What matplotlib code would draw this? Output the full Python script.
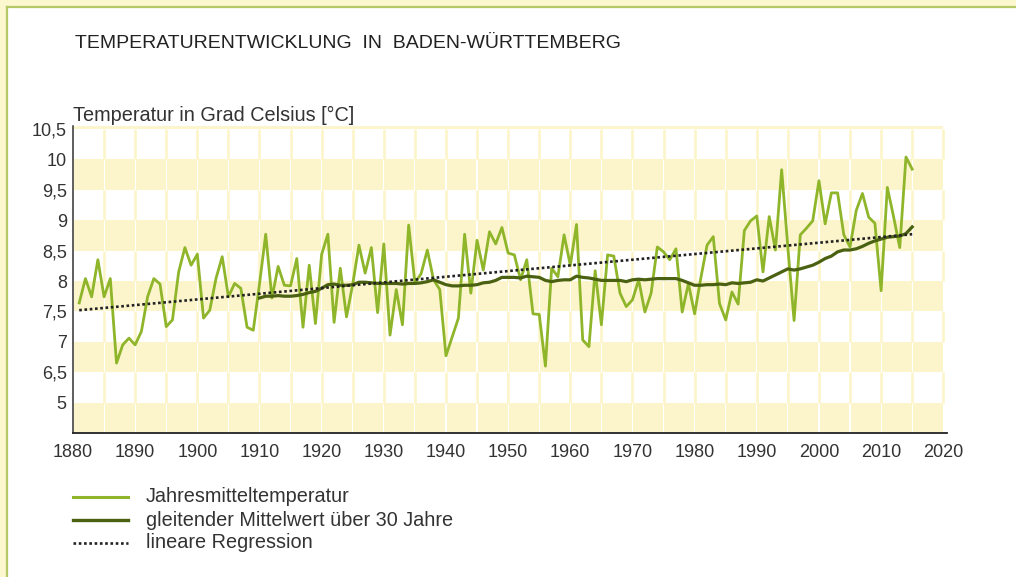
import numpy as np
import matplotlib.pyplot as plt
from matplotlib.patches import Rectangle
from matplotlib.lines import Line2D

plt.rcParams['font.family'] = ['Liberation Sans', 'DejaVu Sans']

# annual mean temperature 1881-2015
years = np.arange(1881, 2016)
temp = [7.64, 8.04, 7.74, 8.35, 7.74, 8.04, 6.65, 6.95, 7.06, 6.95,
        7.17, 7.74, 8.04, 7.95, 7.25, 7.36, 8.15, 8.55, 8.26, 8.44,
        7.39, 7.52, 8.04, 8.40, 7.74, 7.96, 7.88, 7.24, 7.19, 7.95,
        8.77, 7.72, 8.24, 7.93, 7.92, 8.37, 7.24, 8.26, 7.30, 8.44,
        8.77, 7.32, 8.21, 7.41, 7.95, 8.59, 8.13, 8.55, 7.48, 8.61,
        7.11, 7.86, 7.28, 8.92, 7.97, 8.12, 8.51, 8.02, 7.86, 6.77,
        7.08, 7.39, 8.77, 7.80, 8.67, 8.18, 8.81, 8.61, 8.88, 8.46,
        8.43, 8.02, 8.35, 7.46, 7.45, 6.60, 8.21, 8.07, 8.76, 8.26,
        8.93, 7.03, 6.92, 8.17, 7.28, 8.43, 8.41, 7.80, 7.58, 7.69,
        8.02, 7.49, 7.80, 8.56, 8.48, 8.35, 8.53, 7.49, 7.96, 7.46,
        8.05, 8.59, 8.73, 7.63, 7.36, 7.82, 7.62, 8.83, 8.99, 9.07,
        8.15, 9.06, 8.51, 9.83, 8.55, 7.35, 8.76, 8.87, 8.99, 9.65,
        8.94, 9.45, 9.45, 8.76, 8.56, 9.16, 9.44, 9.05, 8.95, 7.84,
        9.54, 9.06, 8.55, 10.04, 9.84]

# 30-year moving average 1910-2015
ma_years = np.arange(1910, 2016)
ma = [7.72, 7.75, 7.75, 7.76, 7.75, 7.75, 7.76, 7.78, 7.81, 7.83,
      7.88, 7.94, 7.95, 7.93, 7.93, 7.94, 7.98, 7.98, 7.97, 7.96,
      7.96, 7.96, 7.96, 7.95, 7.96, 7.96, 7.97, 7.99, 8.02, 7.98,
      7.94, 7.92, 7.92, 7.93, 7.93, 7.94, 7.97, 7.98, 8.01, 8.06,
      8.06, 8.06, 8.05, 8.08, 8.07, 8.06, 8.01, 7.99, 8.01, 8.02,
      8.02, 8.08, 8.06, 8.05, 8.03, 8.01, 8.01, 8.01, 8.01, 7.99,
      8.02, 8.03, 8.02, 8.03, 8.04, 8.04, 8.04, 8.04, 8.01, 7.97,
      7.93, 7.93, 7.94, 7.94, 7.95, 7.94, 7.97, 7.96, 7.97, 7.98,
      8.02, 8.00, 8.05, 8.10, 8.15, 8.20, 8.18, 8.20, 8.23, 8.26,
      8.31, 8.37, 8.41, 8.48, 8.51, 8.51, 8.53, 8.57, 8.62, 8.66,
      8.69, 8.72, 8.73, 8.74, 8.78, 8.89]

# linear regression end points
reg_years = [1881, 2015]
reg_vals = [7.52, 8.77]

# the axis is broken: "5" sits where 6 would be
ytick_pos = [6.0, 6.5, 7.0, 7.5, 8.0, 8.5, 9.0, 9.5, 10.0, 10.5]
ytick_labels = ['5', '6,5', '7', '7,5', '8', '8,5', '9', '9,5', '10', '10,5']
xticks = list(range(1880, 2021, 10))

light = '#8fb52a'
dark = '#4b6112'
band = '#fcf5cc'
dots = (0, (1.0, 1.0))
W, H = 1016, 577

fig = plt.figure(figsize=(W / 100, H / 100), dpi=100)
fig.patch.set_facecolor('white')

# frame at the top and left edge
fig.add_artist(Rectangle((0, 1 - 6 / H), 1, 6 / H, transform=fig.transFigure,
                         color='#fdf7cf', lw=0))
fig.add_artist(Rectangle((0, 0), 6 / W, 1, transform=fig.transFigure,
                         color='#fdf7cf', lw=0))
fig.add_artist(Line2D([6.5 / W, 1], [1 - 7 / H, 1 - 7 / H], transform=fig.transFigure,
                      color='#b5c866', lw=1.6))
fig.add_artist(Line2D([7 / W, 7 / W], [0, 1 - 6.5 / H], transform=fig.transFigure,
                      color='#b5c866', lw=1.6))

ax = fig.add_axes([73 / W, 1 - 433 / H, 874 / W, 307 / H])
ax.set_xlim(1880, 2020.6)
ax.set_ylim(5.5, 10.55)
ax.set_facecolor('white')

# tile background
g = 0.09
for lo in [5.5, 6.5, 7.5, 8.5, 9.5]:
    for x0 in range(1880, 2020, 5):
        ax.add_patch(Rectangle((x0 + g, lo), 5 - 2 * g, 0.5, color=band, lw=0, zorder=0))
for lo in [6.0, 7.0, 8.0, 9.0, 10.0]:
    ax.vlines(range(1885, 2021, 5), lo, lo + 0.5, color=band, lw=2.0, zorder=0)
ax.add_patch(Rectangle((1880, 10.5), 140, 0.05, color=band, lw=0, zorder=0))

ax.plot(years, temp, color=light, lw=2.0, zorder=3)
ax.plot(ma_years, ma, color=dark, lw=2.3, zorder=4)
ax.plot(reg_years, reg_vals, color='#222222', lw=1.9, ls=dots, zorder=5)

ax.set_xticks(xticks)
ax.set_yticks(ytick_pos)
ax.set_yticklabels(ytick_labels)
ax.tick_params(length=0, labelsize=13, colors='#333333')
ax.tick_params(axis='y', pad=4.5)
ax.tick_params(axis='x', pad=8)
for s in ['top', 'right']:
    ax.spines[s].set_visible(False)
ax.spines['left'].set_color('#333333')
ax.spines['left'].set_linewidth(1.1)
ax.spines['bottom'].set_color('#222222')
ax.spines['bottom'].set_linewidth(1.3)

fig.text(75 / W, 1 - 43 / H, 'TEMPERATURENTWICKLUNG  IN  BADEN-WÜRTTEMBERG',
         fontsize=14, color='#222222', va='center', ha='left')
fig.text(73 / W, 1 - 115 / H, 'Temperatur in Grad Celsius [°C]',
         fontsize=14.3, color='#333333', va='center', ha='left')

# legend
leg = [('Jahresmitteltemperatur', light, '-', 2.2, 497),
       ('gleitender Mittelwert über 30 Jahre', dark, '-', 2.4, 520),
       ('lineare Regression', '#222222', dots, 1.9, 543)]
for label, c, ls, lw, yy in leg:
    fig.add_artist(Line2D([73 / W, 128 / W], [1 - yy / H, 1 - yy / H],
                          transform=fig.transFigure, color=c, ls=ls, lw=lw))
    fig.text(146 / W, 1 - yy / H, label, fontsize=14.3, color='#333333',
             va='center', ha='left')

fig.savefig('out.png', dpi=100)
